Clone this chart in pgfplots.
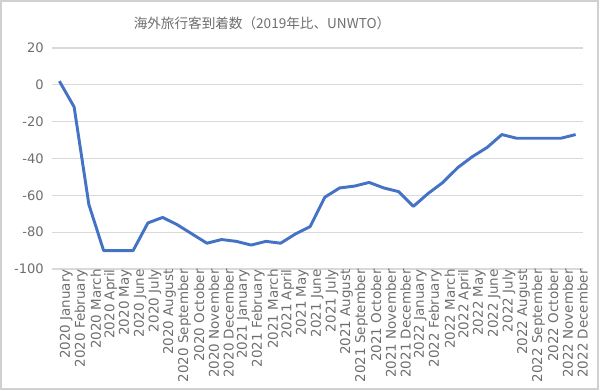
\documentclass[border=0pt]{standalone}
\usepackage{fontspec}
\setmainfont{DejaVu Sans}
\newfontfamily\cjk{Noto Sans CJK JP}
\usepackage{pgfplots}
\pgfplotsset{compat=1.18}
\definecolor{linecol}{HTML}{4472C4}
\definecolor{txtgray}{HTML}{6E6E6E}
\definecolor{gridgray}{HTML}{D9D9D9}
\definecolor{framegray}{HTML}{D0D0D0}
\pgfplotstableread{
x y
0 2
1 -12
2 -65
3 -90
4 -90
5 -90
6 -75
7 -72
8 -76
9 -81
10 -86
11 -84
12 -85
13 -87
14 -85
15 -86
16 -81
17 -77
18 -61
19 -56
20 -55
21 -53
22 -56
23 -58
24 -66
25 -59
26 -53
27 -45
28 -39
29 -34
30 -27
31 -29
32 -29
33 -29
34 -29
35 -27
}\datatable
\begin{document}
\begin{tikzpicture}
\useasboundingbox (0,0) rectangle (450pt,293.25pt);
\draw[color=framegray, line width=1.1pt] (0.75pt,1.5pt) rectangle (448.5pt,292.5pt);
\node[font={\cjk\fontsize{10.2pt}{12pt}\selectfont}, text=txtgray, anchor=center] at (196.5pt,276pt) {海外旅行客到着数（2019年比、UNWTO）};
\begin{axis}[
  at={(39pt,91.5pt)}, anchor=south west,
  scale only axis, width=398.25pt, height=165.75pt,
  xmin=-0.5, xmax=35.5, ymin=-100, ymax=20,
  ytick={-100,-80,-60,-40,-20,0,20},
  yticklabels={-100,-80,-60,-40,-20,0,20},
  xtick={0,...,35},
  xticklabels={2020 January,2020 February,2020 March,2020 April,2020 May,2020 June,2020 July,2020 August,2020 September,2020 October,2020 November,2020 December,2021 January,2021 February,2021 March,2021 April,2021 May,2021 June,2021 July,2021 August,2021 September,2021 October,2021 November,2021 December,2022 January,2022 February,2022 March,2022 April,2022 May,2022 June,2022 July,2022 August,2022 September,2022 October,2022 November,2022 December},
  ymajorgrids,
  grid style={color=gridgray, line width=0.9pt},
  axis line style={draw=none},
  major tick length=0pt,
  tick style={draw=none},
  yticklabel style={font=\fontsize{9.8pt}{11pt}\selectfont, text=txtgray, anchor=east, inner sep=0pt, xshift=-6pt},
  xticklabel style={font=\fontsize{10.1pt}{11pt}\selectfont, text=txtgray, rotate=90, anchor=east, inner sep=0pt, yshift=-5.25pt},
  clip=false,
]
\addplot[color=linecol, line width=2.2pt, line join=round, mark=none] table[x=x,y=y] {\datatable};
\end{axis}
\end{tikzpicture}
\end{document}
